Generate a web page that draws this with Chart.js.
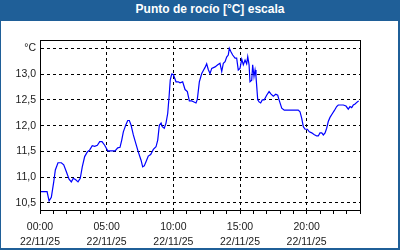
<!DOCTYPE html>
<html>
<head>
<meta charset="utf-8">
<script src="https://cdn.jsdelivr.net/npm/chart.js@4.4.1/dist/chart.umd.min.js"></script>
<style>
  html, body { margin: 0; padding: 0; background: #ffffff; }
  #frame { position: relative; width: 400px; height: 250px; background: #1f5f98; overflow: hidden; }
  #inner { position: absolute; left: 1px; top: 21px; width: 397px; height: 227px; background: #ffffff; }
  #title { position: absolute; left: 20px; top: 2px; width: 380px; height: 19px; line-height: 18px;
           text-align: center; color: #ffffff; font: bold 12px "Liberation Sans", Arial, sans-serif; }
  #c { position: absolute; left: 0; top: 0; }
</style>
</head>
<body>
<div id="frame">
  <div id="inner"></div>
  <div id="title">Punto de rocío [°C] escala</div>
  <canvas id="c" width="400" height="250"></canvas>
</div>
<script>
// Time of day in hours (22/11/25)
const hours = [0.05,0.53,0.68,0.85,1.03,1.15,1.35,1.60,1.78,1.97,2.18,2.35,2.50,2.68,2.85,3.02,3.17,3.35,3.55,3.73,
  3.92,4.10,4.30,4.48,4.65,4.85,5.08,5.63,5.83,6.00,6.13,6.25,6.43,6.58,6.70,6.83,7.00,7.20,7.37,7.58,
  7.70,7.82,7.95,8.12,8.30,8.50,8.70,8.83,8.95,9.08,9.17,9.32,9.45,9.58,9.68,9.77,9.88,10.00,10.20,10.37,
  10.50,10.70,10.88,11.05,11.20,11.38,11.55,11.70,11.80,11.95,12.13,12.25,12.38,12.50,12.62,12.75,12.88,13.13,13.33,13.50,
  13.63,13.75,13.88,14.00,14.12,14.20,14.33,14.45,14.63,14.75,14.87,15.00,15.13,15.25,15.38,15.50,15.58,15.68,15.75,15.88,
  15.95,16.05,16.13,16.20,16.33,16.43,16.55,16.67,16.82,17.00,17.18,17.33,17.50,17.68,17.83,17.93,18.13,18.32,19.37,19.50,
  19.63,19.75,19.88,20.05,20.20,20.38,20.55,20.75,20.87,21.00,21.13,21.25,21.38,21.50,21.62,21.75,21.92,22.07,22.25,22.37,
  22.75,22.95,23.12,23.25,23.38,23.50,23.63,23.80,23.90];
// Dew point values in °C
const dewPoint = [10.72,10.72,10.54,10.61,10.91,11.14,11.28,11.28,11.24,11.11,10.96,10.91,10.98,10.95,10.91,10.98,11.20,11.40,11.49,11.53,
  11.61,11.60,11.62,11.69,11.69,11.62,11.51,11.51,11.57,11.58,11.72,11.88,12.01,12.10,12.10,12.01,11.82,11.64,11.49,11.33,
  11.20,11.22,11.30,11.41,11.44,11.54,11.59,11.72,12.01,12.05,11.98,11.95,12.05,12.24,12.56,12.89,13.00,12.99,12.85,12.85,
  12.83,12.85,12.70,12.66,12.48,12.48,12.46,12.44,12.51,12.85,13.01,13.07,13.13,13.20,13.09,13.01,13.11,13.14,13.18,13.21,
  13.05,13.21,13.24,13.33,13.37,13.50,13.43,13.37,13.31,13.31,13.08,13.11,13.29,13.18,13.27,13.20,13.34,13.18,12.85,12.88,
  13.18,12.95,13.08,12.95,12.50,12.46,12.44,12.50,12.50,12.59,12.66,12.61,12.57,12.61,12.59,12.50,12.34,12.30,12.30,12.27,
  12.14,11.98,11.93,11.93,11.88,11.86,11.83,11.80,11.80,11.86,11.86,11.82,11.86,11.95,12.08,12.16,12.23,12.29,12.37,12.40,
  12.40,12.38,12.32,12.37,12.35,12.40,12.42,12.46,12.48];

const yTickValues = [10.5, 11.0, 11.5, 12.0, 12.5, 13.0, 13.5];
const xTickHours = [0,1,2,3,4,5,6,7,8,9,10,11,12,13,14,15,16,17,18,19,20,21,22,23,24];
const xLabelHours = [0, 5, 10, 15, 20];
const dateLabel = '22/11/25';
const unitLabel = '°C';

const points = hours.map((h, i) => ({ x: h, y: dewPoint[i] }));

const frameBorder = {
  id: 'frameBorder',
  afterDraw(chart) {
    const { ctx, chartArea: a } = chart;
    ctx.save();
    ctx.strokeStyle = '#000000';
    ctx.lineWidth = 1;
    ctx.strokeRect(Math.round(a.left) + 0.5, Math.round(a.top) + 0.5,
                   Math.round(a.right - a.left), Math.round(a.bottom - a.top));
    ctx.restore();
  }
};

const font = { family: '"Liberation Sans", Arial, sans-serif', size: 10.5 };

new Chart(document.getElementById('c'), {
  type: 'line',
  data: {
    datasets: [{
      data: points,
      borderColor: '#0000ff',
      borderWidth: 1.2,
      pointRadius: 0,
      tension: 0,
      fill: false
    }]
  },
  options: {
    responsive: false,
    animation: false,
    events: [],
    layout: { padding: { top: 40, right: 40, left: 0, bottom: 0 } },
    plugins: { legend: { display: false }, tooltip: { enabled: false }, title: { display: false } },
    scales: {
      x: {
        type: 'linear',
        min: 0, max: 24,
        afterBuildTicks(scale) { scale.ticks = xTickHours.map(v => ({ value: v })); },
        afterFit(scale) { scale.height = 40; },
        ticks: {
          autoSkip: false, maxRotation: 0, minRotation: 0,
          color: '#1a1a1a', font: { ...font, lineHeight: 1.45 }, padding: 5,
          callback(v) {
            if (xLabelHours.includes(v)) {
              return [String(v).padStart(2, '0') + ':00', dateLabel];
            }
            return '';
          }
        },
        grid: {
          color(ctx) {
            const v = ctx.tick ? ctx.tick.value : null;
            return (v !== null && v % 5 === 0 && v > 0 && v < 24) ? '#000000' : 'rgba(0,0,0,0)';
          },
          lineWidth: 1,
          drawTicks: true,
          tickLength: 4,
          tickColor: '#000000',
          tickWidth: 1
        },
        border: { display: true, color: '#000000', width: 1, dash: [3, 3] }
      },
      y: {
        type: 'linear',
        min: 10.364, max: 13.661,
        afterBuildTicks(scale) { scale.ticks = yTickValues.map(v => ({ value: v })); },
        afterFit(scale) { scale.width = 40; },
        ticks: {
          color: '#1a1a1a', font, padding: 4,
          callback(v) {
            if (v === 13.5) return unitLabel;
            return v.toFixed(1).replace('.', ',');
          }
        },
        grid: {
          color: '#000000',
          lineWidth: 1,
          drawTicks: false
        },
        border: { display: true, color: '#000000', width: 1, dash: [3, 3] }
      }
    }
  },
  plugins: [frameBorder]
});
</script>
</body>
</html>
